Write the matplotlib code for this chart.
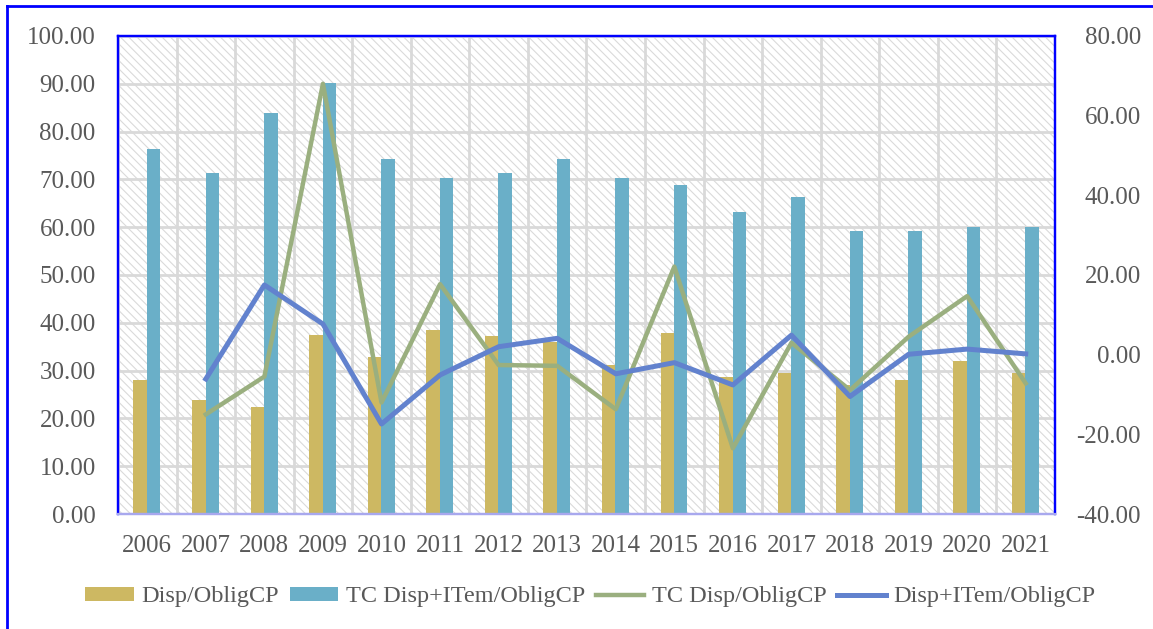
import matplotlib
matplotlib.use("Agg")
import matplotlib.pyplot as plt
import numpy as np
from matplotlib.patches import Rectangle
from matplotlib.lines import Line2D
from matplotlib.ticker import FormatStrFormatter, MultipleLocator

# valeurs
years = [str(y) for y in range(2006, 2022)]
disp_oblig = [28.0, 23.8, 22.3, 37.4, 32.8, 38.5, 37.3, 36.0,
              31.2, 37.9, 28.7, 29.6, 27.0, 28.0, 32.0, 29.6]
tc_disp_item = [76.3, 71.4, 83.9, 90.2, 74.2, 70.2, 71.4, 74.2,
                70.3, 68.9, 63.2, 66.3, 59.3, 59.1, 60.0, 60.0]
tc_disp = [np.nan, -15.0, -5.5, 68.0, -12.0, 17.7, -2.6, -2.8,
           -13.7, 22.1, -23.5, 3.0, -8.9, 4.5, 14.7, -7.2]
disp_item = [np.nan, -6.1, 17.5, 7.7, -17.4, -5.1, 2.0, 4.1,
             -4.8, -2.0, -7.6, 4.9, -10.5, 0.1, 1.4, 0.2]

c_tan = "#CDB862"
c_teal = "#6AAFC8"
c_green = "#9AAF7F"
c_blue = "#6282CE"
c_txt = "#595959"
c_grid = "#D9D9D9"

plt.rcParams["font.family"] = ["Liberation Serif", "DejaVu Serif"]
plt.rcParams["font.size"] = 18
plt.rcParams["hatch.linewidth"] = 0.8

fig = plt.figure(figsize=(11.53, 6.29), dpi=100)
ax = fig.add_axes([0.1023, 0.1828, 0.8127, 0.76])
ax2 = ax.twinx()

x = np.arange(len(years))
w = 0.23

# fond hachuré
ax.add_patch(Rectangle((0, 0), 1, 1, transform=ax.transAxes, facecolor="white",
                       edgecolor="#DADADA", hatch="\\\\\\\\", linewidth=0, zorder=0.1))

b1 = ax.bar(x - 0.12, disp_oblig, w, color=c_tan, zorder=2, label="Disp/ObligCP")
b2 = ax.bar(x + 0.11, tc_disp_item, w, color=c_teal, zorder=2, label="TC Disp+ITem/ObligCP")

l1, = ax2.plot(x, tc_disp, color=c_green, lw=3.2, label="TC Disp/ObligCP")
l2, = ax2.plot(x, disp_item, color=c_blue, lw=3.6, label="Disp+ITem/ObligCP")

ax.set_xlim(-0.5, len(years) - 0.5)
ax.set_ylim(0, 100)
ax2.set_ylim(-40, 80)
ax.yaxis.set_major_locator(MultipleLocator(10))
ax2.yaxis.set_major_locator(MultipleLocator(20))
ax.yaxis.set_major_formatter(FormatStrFormatter("%.2f"))
ax2.yaxis.set_major_formatter(FormatStrFormatter("%.2f"))
ax.set_xticks(x)
ax.set_xticklabels(years)
ax.set_xticks(np.arange(-0.5, len(years), 1), minor=True)

ax.grid(which="major", axis="y", color=c_grid, lw=2, zorder=0.5)
ax.grid(which="minor", axis="x", color=c_grid, lw=2, zorder=0.5)
ax.set_axisbelow(True)

ax.tick_params(axis="both", which="both", length=0, colors=c_txt)
ax.tick_params(axis="y", pad=16)
ax.tick_params(axis="x", pad=15)
ax2.tick_params(axis="y", length=0, colors=c_txt, pad=62)
for t in ax2.get_yticklabels():
    t.set_horizontalalignment("right")

for a in (ax, ax2):
    for s in ("left", "top", "right"):
        a.spines[s].set_color("#0000FF")
        a.spines[s].set_linewidth(1.6)
    a.spines["bottom"].set_color("#A8A8EE")
    a.spines["bottom"].set_linewidth(1.6)

# cadre extérieur
fig.add_artist(Line2D([7 / 1153, 7 / 1153], [0, 1 - 6 / 629], color="#0000FF", lw=2))
fig.add_artist(Line2D([7 / 1153, 1], [1 - 6 / 629, 1 - 6 / 629], color="#0000FF", lw=2))

leg = fig.legend([b1, b2, l1, l2],
                 ["Disp/ObligCP", "TC Disp+ITem/ObligCP", "TC Disp/ObligCP", "Disp+ITem/ObligCP"],
                 loc="center", bbox_to_anchor=(0.512, 0.051), ncol=4, frameon=False,
                 fontsize=17.5, handlelength=2.0, handleheight=0.5, handletextpad=0.3,
                 columnspacing=0.45)
for t in leg.get_texts():
    t.set_color(c_txt)

fig.savefig("out.png", dpi=100)
